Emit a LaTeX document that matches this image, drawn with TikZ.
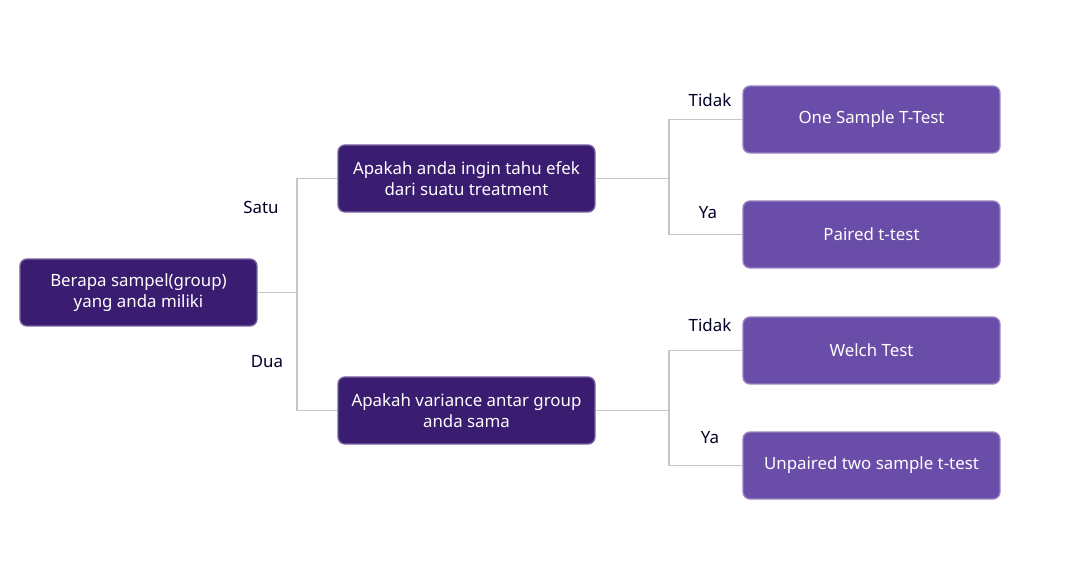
\documentclass[tikz,border=0pt]{standalone}
\usepackage{fontspec}
\setmainfont{Noto Sans}
\begin{document}
\begin{tikzpicture}[x=0.02cm,y=-0.02cm,
  box/.style={draw=#1!70!white,rounded corners=4pt,minimum width=5.14cm,minimum height=1.34cm,align=center,text=white,font=\fontsize{9.6}{12}\selectfont,line width=0.8pt},
  dark/.style={box=dk,fill=dk},
  light/.style={box=lt,fill=lt},
  con/.style={draw=gray!45,line width=0.6pt},
  lab/.style={font=\fontsize{9.6}{12}\selectfont\bfseries,text=black!85!blue}]
\definecolor{dk}{HTML}{3A1C71}
\definecolor{lt}{HTML}{6A4DA8}
\useasboundingbox (0,0) rectangle (1080,588);
\node[dark,minimum width=4.74cm] (r) at (138.5,292.5) {Berapa sampel(group)\\yang anda miliki};
\node[dark] (q1) at (466.5,178.5) {Apakah anda ingin tahu efek\\dari suatu treatment};
\node[dark] (q2) at (466.5,410.5) {Apakah variance antar group\\anda sama};
\node[light] (l1) at (871.5,119.5) {One Sample T-Test};
\node[light] (l2) at (871.5,234.5) {Paired t-test};
\node[light] (l3) at (871.5,350.5) {Welch Test};
\node[light] (l4) at (871.5,465.5) {Unpaired two sample t-test};
\coordinate (j0) at (297,292.5);
\coordinate (j1) at (669,178.5);
\coordinate (j2) at (669,410.5);
\begin{scope}[on background layer/.style={}]
\draw[con] (r.east) -- (j0);
\draw[con] (j0) |- (q1.west);
\draw[con] (j0) |- (q2.west);
\draw[con] (q1.east) -- (j1);
\draw[con] (j1) |- (l1.west);
\draw[con] (j1) |- (l2.west);
\draw[con] (q2.east) -- (j2);
\draw[con] (j2) |- (l3.west);
\draw[con] (j2) |- (l4.west);
\end{scope}
\node[lab] (s) at (261,207) {Satu};
\node[lab] (d) at (267,362) {Dua};
\node[lab] (t1) at (710,100) {Tidak};
\node[lab] (y1) at (708,213) {Ya};
\node[lab] (t2) at (710,325) {Tidak};
\node[lab] (y2) at (710,438) {Ya};
\end{tikzpicture}
\end{document}
